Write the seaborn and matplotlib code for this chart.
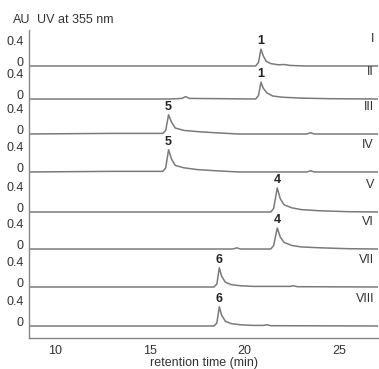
import matplotlib
matplotlib.use("Agg")
import matplotlib.pyplot as plt
import seaborn as sns
import numpy as np

# ---------------- data ----------------
trace_names = ["I", "II", "III", "IV", "V", "VI", "VII", "VIII"]
peak_labels = ["1", "1", "5", "5", "4", "4", "6", "6"]

t_I = [8.63, 20.60, 20.75, 20.88, 21.00, 21.15, 21.40, 21.80, 22.10, 22.40, 23.20, 27.06]
v_I = [0.00, 0.00, 0.06, 0.28, 0.17, 0.08, 0.04, 0.02, 0.025, 0.01, 0.00, 0.00]

t_II = [8.63, 16.10, 16.70, 16.90, 17.10, 20.60, 20.75, 20.88, 21.00, 21.20, 21.50, 22.00, 23.00, 24.50, 27.06]
v_II = [0.00, 0.00, 0.01, 0.04, 0.01, 0.00, 0.06, 0.28, 0.18, 0.10, 0.05, 0.03, 0.015, 0.005, 0.00]

t_III = [8.63, 13.00, 15.70, 15.85, 16.00, 16.15, 16.35, 16.80, 17.50, 18.50, 19.70, 23.30, 23.50, 23.70, 27.06]
v_III = [0.00, 0.01, 0.01, 0.06, 0.32, 0.20, 0.10, 0.06, 0.04, 0.02, 0.00, 0.00, 0.02, 0.00, 0.00]

t_IV = [8.63, 13.00, 15.70, 15.85, 16.00, 16.15, 16.35, 16.80, 17.50, 18.50, 19.70, 23.30, 23.50, 23.70, 27.06]
v_IV = [0.00, 0.01, 0.01, 0.07, 0.37, 0.22, 0.11, 0.07, 0.04, 0.02, 0.00, 0.00, 0.02, 0.00, 0.00]

t_V = [8.63, 21.40, 21.55, 21.74, 21.90, 22.10, 22.50, 23.00, 24.00, 25.50, 27.06]
v_V = [0.00, 0.00, 0.06, 0.40, 0.22, 0.12, 0.07, 0.04, 0.02, 0.005, 0.00]

t_VI = [8.63, 19.40, 19.60, 19.80, 21.40, 21.55, 21.74, 21.90, 22.10, 22.50, 23.00, 24.00, 25.50, 27.06]
v_VI = [0.00, 0.00, 0.02, 0.00, 0.00, 0.06, 0.35, 0.20, 0.11, 0.06, 0.035, 0.02, 0.005, 0.00]

t_VII = [8.63, 18.40, 18.55, 18.68, 18.80, 19.00, 19.30, 19.80, 20.50, 22.40, 22.60, 22.80, 27.06]
v_VII = [0.00, 0.00, 0.05, 0.32, 0.18, 0.08, 0.04, 0.02, 0.01, 0.01, 0.02, 0.005, 0.00]

t_VIII = [8.63, 18.40, 18.55, 18.68, 18.80, 19.00, 19.30, 19.80, 20.50, 21.00, 21.20, 21.40, 27.06]
v_VIII = [0.00, 0.00, 0.05, 0.32, 0.18, 0.08, 0.04, 0.02, 0.01, 0.01, 0.02, 0.005, 0.00]

x_ticks = [10, 15, 20, 25]
y_tick_values = [0, 0.4]
y_tick_labels = ["0", "0.4"]

# ---------------- layout ----------------
offsets = [4.333, 3.783, 3.20, 2.567, 1.90, 1.283, 0.65, 0.0]
traces_t = [t_I, t_II, t_III, t_IV, t_V, t_VI, t_VII, t_VIII]
traces_v = [v_I, v_II, v_III, v_IV, v_V, v_VI, v_VII, v_VIII]

sns.set_style("white")
plt.rcParams["font.family"] = ["Liberation Sans", "DejaVu Sans"]
text_col = "#333333"
line_col = "#7a7a7a"

fig = plt.figure(figsize=(3.79, 3.69), dpi=100)
ax = fig.add_axes([29 / 379, 1 - 338 / 369, 349 / 379, 308 / 369])

for t, v, off, name, pk in zip(traces_t, traces_v, offsets, trace_names, peak_labels):
    y = np.asarray(v) + off
    sns.lineplot(x=t, y=y, ax=ax, color=line_col, lw=1.1, estimator=None, sort=False)
    i = int(np.argmax(v))
    ax.annotate(pk, (t[i], y[i]), xytext=(0, 1.5), textcoords="offset points",
                ha="center", va="bottom", fontsize=9, fontweight="bold", color="#222222")
    ax.text(26.85, off + 0.45, name, ha="right", va="center", fontsize=9, color=text_col)

ax.set_xlim(8.63, 27.06)
ax.set_ylim(-0.2, 4.933)

yt, yl = [], []
for off in offsets:
    for tv, tl in zip(y_tick_values, y_tick_labels):
        yt.append(off + tv)
        yl.append(tl)
ax.set_yticks(yt)
ax.set_yticklabels(yl)
ax.set_xticks(x_ticks)

for s in ["top", "right"]:
    ax.spines[s].set_visible(False)
for s in ["left", "bottom"]:
    ax.spines[s].set_color("#888888")
    ax.spines[s].set_linewidth(1.0)

ax.tick_params(axis="both", which="both", direction="out", length=3, width=0.8,
               colors="#888888", labelcolor=text_col, labelsize=9, pad=1)
ax.tick_params(axis="x", pad=2)

# zero labels sit slightly above their tick, like the stacked panels of the original
for lab in ax.get_yticklabels():
    if lab.get_text() == "0":
        lab.set_va("baseline")
    else:
        lab.set_va("center")

ax.set_xlabel("retention time (min)", fontsize=9, color=text_col, labelpad=0)
ax.set_ylabel("")

fig.text(13 / 379, 1 - 20 / 369, "AU", fontsize=9, color=text_col, va="center", ha="left")
fig.text(37 / 379, 1 - 20 / 369, "UV at 355 nm", fontsize=9, color=text_col, va="center", ha="left")

fig.savefig("out.png", dpi=100)
